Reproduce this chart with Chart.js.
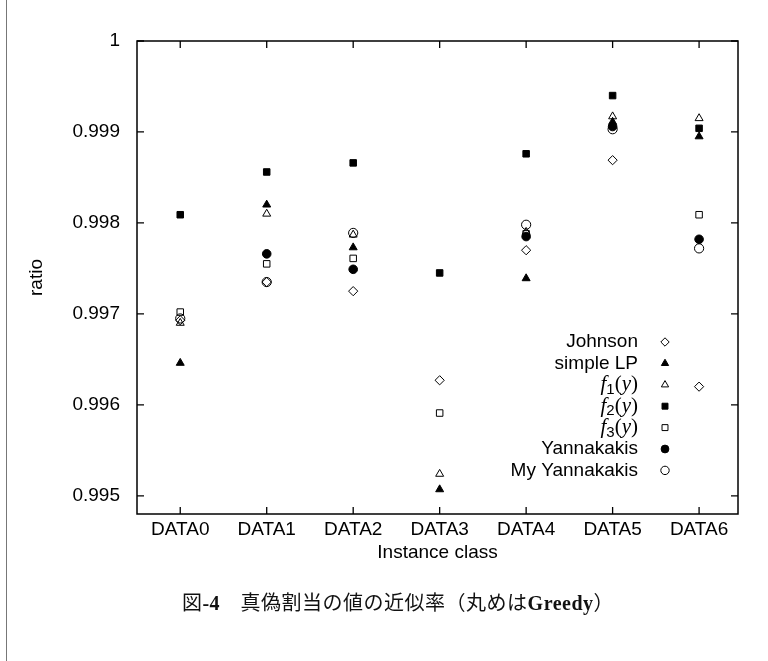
<!DOCTYPE html>
<html>
<head>
<meta charset="utf-8">
<script src="https://cdn.jsdelivr.net/npm/chart.js@4/dist/chart.umd.min.js"></script>
<style>
  html, body { margin: 0; padding: 0; background: #fff; }
  #wrap { position: relative; width: 768px; height: 661px; overflow: hidden; }
  #chart { position: absolute; left: 0; top: 0; }
  #edge { position: absolute; left: 6px; top: 0; width: 1px; height: 661px; background: #777; }
  #caption { position: absolute; left: 0; top: 587px; width: 796px; text-align: center;
             font-family: "Noto Sans CJK JP", sans-serif; font-size: 20px; letter-spacing: 0.5px; color: #111; }
  #caption b { font-family: "Liberation Serif", serif; font-weight: bold; }
</style>
</head>
<body>
<div id="wrap">
  <canvas id="chart" width="768" height="661"></canvas>
  <div id="edge"></div>
  <div id="caption">図<b>-4</b>　真偽割当の値の近似率（丸めは<b>Greedy</b>）</div>
</div>
<script>
const categories = ['DATA0', 'DATA1', 'DATA2', 'DATA3', 'DATA4', 'DATA5', 'DATA6'];
const yTicks = [0.995, 0.996, 0.997, 0.998, 0.999, 1];

const johnson      = [0.99693, 0.99735, 0.99725, 0.99627, 0.99770, 0.99869, 0.99620];
const simpleLP     = [0.99646, 0.99820, 0.99773, 0.99507, 0.99739, 0.99911, 0.99895];
const f1           = [0.99690, 0.99810, 0.99787, 0.99524, 0.99790, 0.99917, 0.99915];
const f2           = [0.99809, 0.99856, 0.99866, 0.99745, 0.99876, 0.99940, 0.99904];
const f3           = [0.99702, 0.99755, 0.99761, 0.99591, 0.99788, null, 0.99809];
const yannakakis   = [null, 0.99766, 0.99749, null, 0.99785, 0.99906, 0.99782];
const myYannakakis = [0.99695, 0.99735, 0.99789, null, 0.99798, 0.99903, 0.99772];

const FONT = "'Liberation Sans', Arial, sans-serif";

function pts(arr) {
  const out = [];
  arr.forEach((v, i) => { if (v !== null) out.push({x: i, y: v}); });
  return out;
}

const series = [
  {label: 'Johnson',       data: johnson,      style: 'rectRot',  fill: false, r: 4.6},
  {label: 'simple LP',     data: simpleLP,     style: 'triangle', fill: true,  r: 4.6},
  {label: 'f1(y)',         data: f1,           style: 'triangle', fill: false, r: 4.6},
  {label: 'f2(y)',         data: f2,           style: 'rect',     fill: true,  r: 4.6},
  {label: 'f3(y)',         data: f3,           style: 'rect',     fill: false, r: 4.6},
  {label: 'Yannakakis',    data: yannakakis,   style: 'circle',   fill: true,  r: 4.3},
  {label: 'My Yannakakis', data: myYannakakis, style: 'circle',   fill: false, r: 4.6}
];

// gnuplot-like frame with inward ticks, plus the legend drawn inside the plot
const framePlugin = {
  id: 'frame',
  afterDraw(chart) {
    const {ctx, chartArea: a, scales} = chart;
    ctx.save();
    ctx.strokeStyle = '#000';
    ctx.lineWidth = 1.5;
    ctx.strokeRect(a.left, a.top, a.right - a.left, a.bottom - a.top);
    ctx.lineWidth = 1.3;
    ctx.beginPath();
    yTicks.forEach(v => {
      const y = scales.y.getPixelForValue(v);
      ctx.moveTo(a.left, y); ctx.lineTo(a.left + 7, y);
      ctx.moveTo(a.right, y); ctx.lineTo(a.right - 7, y);
    });
    categories.forEach((c, i) => {
      const x = scales.x.getPixelForValue(i);
      ctx.moveTo(x, a.bottom); ctx.lineTo(x, a.bottom - 7);
      ctx.moveTo(x, a.top); ctx.lineTo(x, a.top + 7);
    });
    ctx.stroke();

    // legend
    const textRight = 638, markX = 665, top = 342, step = 21.4;
    ctx.fillStyle = '#000';
    ctx.textBaseline = 'middle';
    series.forEach((s, i) => {
      const y = top + i * step;
      const m = s.label.match(/^f(\d)\(y\)$/);
      if (m) {
        const parts = [
          {t: 'f', f: "italic 21px 'Liberation Serif', serif", dy: 0},
          {t: m[1], f: "15px " + FONT, dy: 5},
          {t: '(', f: "21px 'Liberation Serif', serif", dy: 0},
          {t: 'y', f: "italic 21px 'Liberation Serif', serif", dy: 0},
          {t: ')', f: "21px 'Liberation Serif', serif", dy: 0}
        ];
        let w = 0;
        parts.forEach(p => { ctx.font = p.f; p.w = ctx.measureText(p.t).width; w += p.w; });
        let x = textRight - w;
        ctx.textAlign = 'left';
        parts.forEach(p => { ctx.font = p.f; ctx.fillText(p.t, x, y + p.dy); x += p.w; });
      } else {
        ctx.font = "19px " + FONT;
        ctx.textAlign = 'right';
        ctx.fillText(s.label, textRight, y);
      }
      ctx.fillStyle = s.fill ? '#000' : 'rgba(0,0,0,0)';
      ctx.strokeStyle = '#000';
      ctx.lineWidth = 1;
      Chart.helpers.drawPoint(ctx, {pointStyle: s.style, radius: s.r - 0.4, rotation: 0, borderWidth: 1}, markX, y);
      ctx.fillStyle = '#000';
    });
    ctx.restore();
  }
};

new Chart(document.getElementById('chart'), {
  type: 'scatter',
  data: {
    datasets: series.map(s => ({
      label: s.label,
      data: pts(s.data),
      showLine: false,
      pointStyle: s.style,
      pointRadius: s.r,
      pointHoverRadius: s.r,
      pointBorderWidth: 1,
      pointBorderColor: '#000',
      pointBackgroundColor: s.fill ? '#000' : 'rgba(0,0,0,0)'
    }))
  },
  options: {
    responsive: false,
    animation: false,
    layout: {padding: {left: 23, right: 30, top: 41, bottom: 95}},
    plugins: {legend: {display: false}, tooltip: {enabled: false}},
    scales: {
      x: {
        type: 'linear',
        min: -0.5,
        max: 6.45,
        afterBuildTicks: s => { s.ticks = categories.map((c, i) => ({value: i})); },
        afterFit: s => { s.height = 52; },
        grid: {display: false, drawTicks: false},
        border: {display: false},
        ticks: {
          callback: v => categories[v],
          font: {family: FONT, size: 19},
          color: '#000',
          padding: 4,
          maxRotation: 0,
          autoSkip: false
        },
        title: {display: true, text: 'Instance class', font: {family: FONT, size: 19}, color: '#000', padding: {top: 0, bottom: 2}}
      },
      y: {
        min: 0.9948,
        max: 1,
        afterBuildTicks: s => { s.ticks = yTicks.map(v => ({value: v})); },
        afterFit: s => { s.width = 114; },
        grid: {display: false, drawTicks: false},
        border: {display: false},
        ticks: {
          callback: v => String(parseFloat(v.toFixed(3))),
          font: {family: FONT, size: 19},
          color: '#000',
          padding: 17
        },
        title: {display: true, text: 'ratio', font: {family: FONT, size: 19}, color: '#000', padding: {top: 2, bottom: 0}}
      }
    }
  },
  plugins: [framePlugin]
});
</script>
</body>
</html>
